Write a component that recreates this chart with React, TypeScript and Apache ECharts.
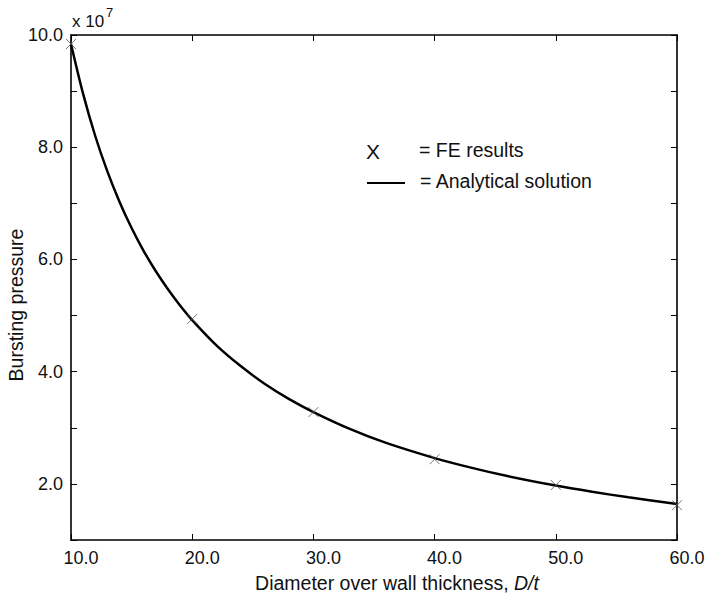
import React, { useEffect, useRef } from "react";
import * as echarts from "echarts";

// values in units of 1e7
const feX = [10, 20, 30, 40, 50, 60];
const feY = [9.84, 4.94, 3.28, 2.44, 1.98, 1.62];

const curveX = [10, 11, 12, 13, 14, 15, 16, 17, 18, 19, 20, 22, 24, 26, 28, 30, 33, 36, 40, 43, 46, 50, 53, 56, 60];
const curveY = [9.84, 8.95, 8.2, 7.57, 7.03, 6.56, 6.15, 5.79, 5.47, 5.18, 4.92, 4.47, 4.1, 3.78, 3.51, 3.28, 2.98, 2.73, 2.46, 2.29, 2.14, 1.97, 1.86, 1.76, 1.64];

const xTicks = [10, 20, 30, 40, 50, 60];
const yLabelValues = [2, 4, 6, 8, 10];

const FONT = "Liberation Sans, Arial, sans-serif";

export default function App() {
  const ref = useRef<HTMLDivElement>(null);
  useEffect(() => {
    if (!ref.current) return;
    const chart = echarts.init(ref.current, null, { renderer: "svg" });
    const axisLine = { lineStyle: { color: "#000", width: 1.6 } };
    const tick = { inside: true, length: 6, lineStyle: { color: "#000", width: 1 } };
    chart.setOption({
      animation: false,
      backgroundColor: "#fff",
      grid: { left: 71, right: 31, top: 35, bottom: 56, containLabel: false, outerBoundsMode: "none" },
      xAxis: [
        {
          type: "value",
          position: "bottom",
          min: xTicks[0],
          max: xTicks[xTicks.length - 1],
          interval: 10,
          axisLine: { show: true, ...axisLine },
          axisTick: tick,
          splitLine: { show: false },
          axisLabel: {
            color: "#111",
            fontSize: 18,
            fontFamily: FONT,
            margin: 9,
            padding: [0, 0, 0, 20],
            formatter: (v: number) => v.toFixed(1),
          },
        },
        {
          type: "value",
          position: "top",
          min: xTicks[0],
          max: xTicks[xTicks.length - 1],
          interval: 10,
          axisLine: { show: true, ...axisLine },
          axisTick: tick,
          splitLine: { show: false },
          axisLabel: { show: false },
        },
      ],
      yAxis: [
        {
          type: "value",
          position: "left",
          min: 1,
          max: 10,
          interval: 1,
          axisLine: { show: true, ...axisLine },
          axisTick: tick,
          splitLine: { show: false },
          axisLabel: {
            color: "#111",
            fontSize: 18,
            fontFamily: FONT,
            margin: 8,
            formatter: (v: number) => (yLabelValues.includes(v) ? v.toFixed(1) : ""),
          },
        },
        {
          type: "value",
          position: "right",
          min: 1,
          max: 10,
          interval: 1,
          axisLine: { show: true, ...axisLine },
          axisTick: tick,
          splitLine: { show: false },
          axisLabel: { show: false },
        },
      ],
      series: [
        {
          type: "line",
          data: curveX.map((x, i) => [x, curveY[i]]),
          showSymbol: false,
          smooth: 0.3,
          lineStyle: { color: "#000", width: 2.5 },
          z: 2,
        },
        {
          type: "scatter",
          data: feX.map((x, i) => [x, feY[i]]),
          symbol: "path://M0,0L10,10M10,0L0,10",
          symbolSize: 10,
          itemStyle: { color: "rgba(0,0,0,0)", borderColor: "#555", borderWidth: 1 },
          z: 3,
        },
      ],
      graphic: [
        {
          type: "text",
          x: 72,
          y: 21,
          style: { text: "x 10", font: `17px ${FONT}`, fill: "#111", verticalAlign: "middle" },
        },
        {
          type: "text",
          x: 106,
          y: 12,
          style: { text: "7", font: `13px ${FONT}`, fill: "#111", verticalAlign: "middle" },
        },
        {
          type: "text",
          x: 16,
          y: 305,
          rotation: Math.PI / 2,
          style: {
            text: "Bursting pressure",
            font: `19.5px ${FONT}`,
            fill: "#111",
            align: "center",
            verticalAlign: "middle",
          },
        },
        {
          type: "text",
          x: 397,
          y: 583,
          style: {
            text: "Diameter over wall thickness, {i|D/t}",
            font: `19.5px ${FONT}`,
            fill: "#111",
            align: "center",
            verticalAlign: "middle",
            rich: { i: { fontStyle: "italic", fontSize: 19.5, fontFamily: FONT, fill: "#111" } },
          },
        },
        {
          type: "text",
          x: 366,
          y: 151,
          style: { text: "X", font: `21px ${FONT}`, fill: "#111", verticalAlign: "middle" },
        },
        {
          type: "text",
          x: 419,
          y: 150,
          style: { text: "= FE results", font: `19.5px ${FONT}`, fill: "#111", verticalAlign: "middle" },
        },
        {
          type: "line",
          shape: { x1: 367, y1: 183, x2: 405, y2: 183 },
          style: { stroke: "#000", lineWidth: 2 },
        },
        {
          type: "text",
          x: 420,
          y: 181,
          style: { text: "= Analytical solution", font: `19.5px ${FONT}`, fill: "#111", verticalAlign: "middle" },
        },
      ],
    });
    return () => chart.dispose();
  }, []);
  return (
    <div
      ref={ref}
      style={{ position: "absolute", left: 0, top: 0, width: 708, height: 596 }}
    />
  );
}
